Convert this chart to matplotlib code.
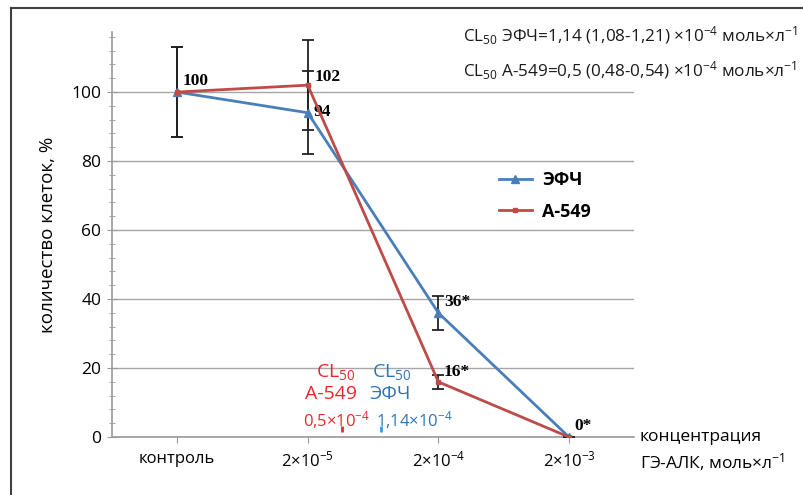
import matplotlib
matplotlib.use("Agg")
import matplotlib.pyplot as plt
from matplotlib.lines import Line2D
from matplotlib.ticker import MultipleLocator

plt.rcParams['font.family'] = ['Open Sans', 'DejaVu Sans']
plt.rcParams['mathtext.default'] = 'regular'

categories = ['контроль', '2×10$^{-5}$', '2×10$^{-4}$', '2×10$^{-3}$']
efch_values = [100, 94, 36, 0]
efch_err = [13, 12, 5, 0]
a549_values = [100, 102, 16, 0]
a549_err = [13, 13, 2, 0]
efch_labels = ['', '94', '36*', '']
a549_labels = ['100', '102', '16*', '0*']
cl50_positions = [1.26, 1.56]   # marks on axis for A-549 and ЭФЧ

blue = '#4a7ebb'
red = '#be4b48'

fig = plt.figure(figsize=(8.04, 4.95), dpi=100)
ax = fig.add_axes([0.139, 0.117, 0.65, 0.819])

x = list(range(len(categories)))
ax.errorbar(x, efch_values, yerr=efch_err, fmt='none', ecolor='#222222',
            elinewidth=1.3, capsize=4, capthick=1.3, zorder=3)
ax.errorbar(x, a549_values, yerr=a549_err, fmt='none', ecolor='#222222',
            elinewidth=1.3, capsize=4, capthick=1.3, zorder=3)
ax.plot(x, efch_values, color=blue, lw=2, marker='^', ms=6, zorder=4, label='ЭФЧ')
ax.plot(x, a549_values, color=red, lw=2, marker='s', ms=3.5, zorder=5, label='А-549')

ax.set_xlim(-0.5, 3.5)
ax.set_ylim(0, 117.5)
ax.yaxis.set_minor_locator(MultipleLocator(4))
ax.set_yticks([0, 20, 40, 60, 80, 100])
ax.grid(axis='y', which='major', color='#a6a6a6', lw=1)
ax.set_axisbelow(True)
for s in ['top', 'right']:
    ax.spines[s].set_visible(False)
for s in ['left', 'bottom']:
    ax.spines[s].set_color('#9a9a9a')
    ax.spines[s].set_linewidth(1.2)
ax.tick_params(axis='y', which='both', direction='inout', color='#9a9a9a', labelsize=12.5, pad=4)
ax.tick_params(axis='y', which='major', length=7)
ax.tick_params(axis='y', which='minor', length=5)
ax.set_xticks(x)
ax.set_xticklabels(categories, fontsize=12)
ax.tick_params(axis='x', direction='out', length=4, color='#9a9a9a', pad=6)
ax.set_ylabel('количество клеток, %', fontsize=13.5, labelpad=10)

# data labels
lab_font = dict(family='Liberation Serif', fontweight='bold', fontsize=12.5)
efch_offsets = [(4, 2), (4, -5), (4, 2), (4, 2)]
a549_offsets = [(4, 2), (5, 0), (4, 1), (4, 2)]
for xi, v, t, off in zip(x, efch_values, efch_labels, efch_offsets):
    if t:
        ax.annotate(t, (xi, v), xytext=off, textcoords='offset points',
                    ha='left', va='bottom', **lab_font)
for xi, v, t, off in zip(x, a549_values, a549_labels, a549_offsets):
    if t:
        ax.annotate(t, (xi, v), xytext=off, textcoords='offset points',
                    ha='left', va='bottom', **lab_font)

# CL50 marks
ax.plot([cl50_positions[0]] * 2, [1.5, 3.2], color='#e8282b', lw=2, zorder=6, solid_capstyle='butt')
ax.plot([cl50_positions[1]] * 2, [1.5, 3.2], color='#3a9ad9', lw=2, zorder=6, solid_capstyle='butt')

# CL50 annotations
cl_red = '#e8282b'
cl_blue = '#2e75b6'
fig.text(336 / 804, 1 - 372 / 495, 'CL$_{50}$', color=cl_red, fontsize=14, ha='center', va='center')
fig.text(331 / 804, 1 - 394 / 495, 'А-549', color=cl_red, fontsize=14, ha='center', va='center')
fig.text(337 / 804, 1 - 420 / 495, '0,5×10$^{-4}$', color=cl_red, fontsize=12, ha='center', va='center')
fig.text(392 / 804, 1 - 372 / 495, 'CL$_{50}$', color=cl_blue, fontsize=14, ha='center', va='center')
fig.text(390 / 804, 1 - 394 / 495, 'ЭФЧ', color=cl_blue, fontsize=14, ha='center', va='center')
fig.text(414 / 804, 1 - 420 / 495, '1,14×10$^{-4}$', color=cl_blue, fontsize=12, ha='center', va='center')

# top-right text
fig.text(463 / 804, 1 - 36 / 495, 'CL$_{50}$ ЭФЧ=1,14 (1,08-1,21) ×10$^{-4}$ моль×л$^{-1}$',
         fontsize=12.3, ha='left', va='center', color='#1a1a1a')
fig.text(463 / 804, 1 - 71 / 495, 'CL$_{50}$ А-549=0,5 (0,48-0,54) ×10$^{-4}$ моль×л$^{-1}$',
         fontsize=12.3, ha='left', va='center', color='#1a1a1a')

# axis title on the right
fig.text(640 / 804, 1 - 437 / 495, 'концентрация', fontsize=12.5, ha='left', va='center')
fig.text(640 / 804, 1 - 462 / 495, 'ГЭ-АЛК, моль×л$^{-1}$', fontsize=12.5, ha='left', va='center')

# legend
handles = [Line2D([], [], color=blue, lw=2, marker='^', ms=6),
           Line2D([], [], color=red, lw=2, marker='s', ms=3.5)]
leg = ax.legend(handles, ['ЭФЧ', 'А-549'], loc='center left',
                bbox_to_anchor=(0.71, 0.595), frameon=False,
                prop=dict(weight='bold', size=13), handlelength=1.8,
                handletextpad=0.6, labelspacing=0.75)

# figure border (top and left)
fig.add_artist(Line2D([11 / 804, 1], [1 - 8 / 495, 1 - 8 / 495], color='#404040', lw=1.5,
                      transform=fig.transFigure))
fig.add_artist(Line2D([11 / 804, 11 / 804], [0, 1 - 8 / 495], color='#404040', lw=1.5,
                      transform=fig.transFigure))

fig.savefig('out.png', dpi=100)
